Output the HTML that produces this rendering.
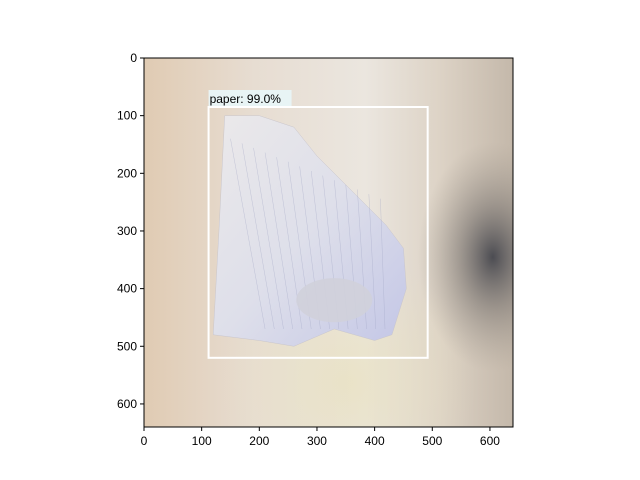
<!DOCTYPE html>
<html><head><meta charset="utf-8"><style>
body{margin:0;background:#fff;width:640px;height:480px;overflow:hidden}
svg{display:block;font-family:"Liberation Sans","DejaVu Sans",sans-serif}
</style></head><body>
<svg id="chart" width="640" height="480">
<defs>
<linearGradient id="bgH" x1="0" x2="1" y1="0" y2="0">
<stop offset="0" stop-color="#e0cbb3"/><stop offset="0.3" stop-color="#e7ddd2"/>
<stop offset="0.6" stop-color="#ebe6df"/><stop offset="0.8" stop-color="#ddd3c6"/><stop offset="1" stop-color="#c4b8aa"/>
</linearGradient>
<radialGradient id="dark" cx="0.5" cy="0.5" r="0.5">
<stop offset="0" stop-color="#45464d" stop-opacity="0.95"/><stop offset="0.45" stop-color="#77726f" stop-opacity="0.55"/><stop offset="1" stop-color="#a0988e" stop-opacity="0"/>
</radialGradient>
<radialGradient id="yel" cx="0.55" cy="0.88" r="0.35">
<stop offset="0" stop-color="#e9e2c2" stop-opacity="0.8"/><stop offset="1" stop-color="#e9e2c2" stop-opacity="0"/>
</radialGradient>
<linearGradient id="paperG" x1="0" x2="1" y1="0" y2="1">
<stop offset="0" stop-color="#ebe9ea"/><stop offset="0.5" stop-color="#dedfea"/><stop offset="1" stop-color="#c3c6e6"/>
</linearGradient>
<clipPath id="ax"><rect x="144" y="58" width="369" height="369"/></clipPath>
</defs>
<g id="img" clip-path="url(#ax)"></g>
<g id="axes"></g>
</svg>
<script>
const imgSize = 640;
const xTicks = [0,100,200,300,400,500,600];
const yTicks = [0,100,200,300,400,500,600];
const boxX = [112, 492];
const boxY = [85, 520];
const boxLabel = "paper: 99.0%";
const L=144,T=58,S=369;
const sx=v=>L+v*S/imgSize, sy=v=>T+v*S/imgSize;
const NS="http://www.w3.org/2000/svg";
function mk(tag,attrs,parent){const e=document.createElementNS(NS,tag);for(const k in attrs)e.setAttribute(k,attrs[k]);parent.appendChild(e);return e;}
const img=document.getElementById('img'), axes=document.getElementById('axes');
mk('rect',{x:L,y:T,width:S,height:S,fill:'url(#bgH)'},img);
mk('rect',{x:L,y:T,width:S,height:S,fill:'url(#yel)'},img);
mk('ellipse',{cx:sx(605),cy:sy(345),rx:75,ry:115,fill:'url(#dark)'},img);
const paperPts=[[140,100],[200,100],[260,120],[300,170],[360,230],[420,290],[450,330],[455,400],[430,480],[400,490],[330,470],[260,500],[200,490],[120,480],[130,300]];
const p=mk('polygon',{points:paperPts.map(q=>sx(q[0])+','+sy(q[1])).join(' '),fill:'url(#paperG)',stroke:'#c9c6cc','stroke-width':0.5},img);


for(let i=0;i<14;i++){mk('line',{x1:sx(150+i*20),y1:sy(140+i*8),x2:sx(210+i*16),y2:sy(470),stroke:'#9aa0c0','stroke-width':0.4,opacity:0.6},img);}
mk('ellipse',{cx:sx(330),cy:sy(420),rx:38,ry:22,fill:'#d0d0da',opacity:0.9},img);
const b=mk('rect',{x:sx(boxX[0]),y:sy(boxY[0]),width:sx(boxX[1])-sx(boxX[0]),height:sy(boxY[1])-sy(boxY[0]),fill:'none',stroke:'#fff','stroke-width':2},axes);


const lb=mk('rect',{x:sx(boxX[0]),y:sy(boxY[0])-17,width:83,height:16,fill:'#e8f6f8',opacity:0.9},axes);


const lt=mk('text',{x:sx(boxX[0])+1,y:sy(boxY[0])-4,'font-size':12,fill:'#000'},axes);
lt.textContent=boxLabel;


const fr=mk('rect',{x:L,y:T,width:S,height:S,fill:'none',stroke:'#000','stroke-width':1},axes);


xTicks.forEach(v=>{
  mk('line',{x1:sx(v),y1:T+S,x2:sx(v),y2:T+S+4,stroke:'#000'},axes);
  const t=mk('text',{x:sx(v),y:T+S+18,'font-size':12,'text-anchor':'middle'},axes);t.textContent=v;
  
  
});
yTicks.forEach(v=>{
  mk('line',{x1:L-4,y1:sy(v),x2:L,y2:sy(v),stroke:'#000'},axes);
  const t=mk('text',{x:L-7,y:sy(v)+4,'font-size':12,'text-anchor':'end'},axes);t.textContent=v;
  
  
});
</script>
</body></html>
